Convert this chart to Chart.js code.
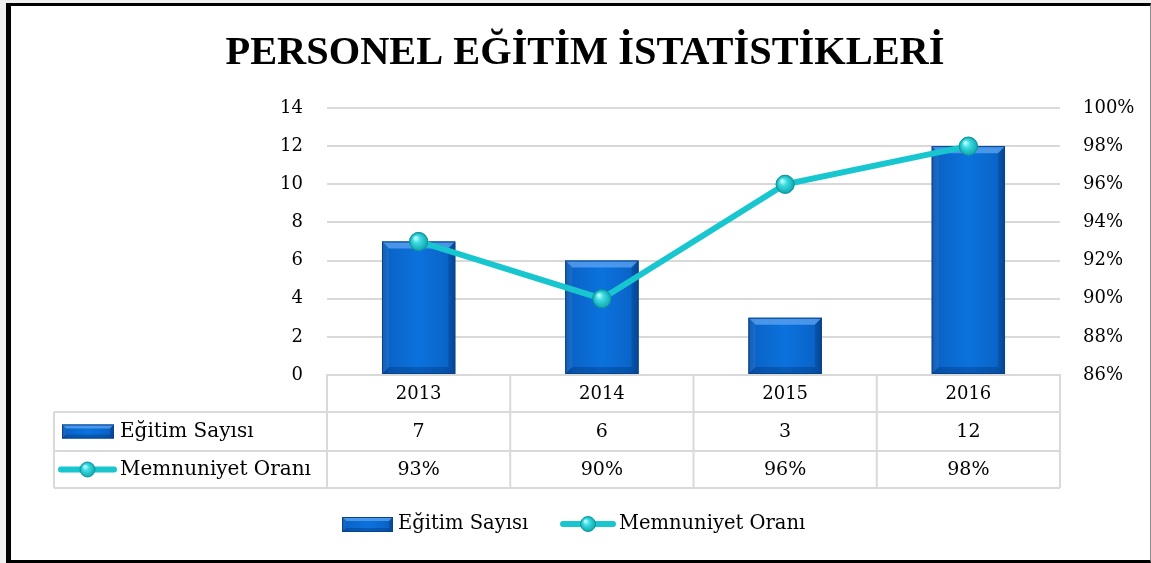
<!DOCTYPE html>
<html>
<head>
<meta charset="utf-8">
<script src="https://cdn.jsdelivr.net/npm/chart.js@4"></script>
<style>
  html, body { margin: 0; padding: 0; background: #f0f0f0; }
  #frame {
    position: absolute; left: 6px; top: 3px; width: 1145px; height: 560px;
    box-sizing: border-box; background: #fff;
    border-left: 5px solid #000; border-top: 3px solid #000;
    border-bottom: 3px solid #000; border-right: 1px solid #8a8a8a;
  }
  #wrap { position: absolute; left: 0; top: 0; width: 1139px; height: 554px; }
</style>
</head>
<body>
<div id="frame"><div id="wrap"><canvas id="c" width="1139" height="554"></canvas></div></div>
<script>
const titleText = 'PERSONEL EĞİTİM İSTATİSTİKLERİ';
const categories = ['2013', '2014', '2015', '2016'];
const egitimSayisi = [7, 6, 3, 12];
const memnuniyetOrani = [93, 90, 96, 98];
const seriesNames = ['Eğitim Sayısı', 'Memnuniyet Oranı'];
const countAxis = { min: 0, max: 14, step: 2 };
const rateAxis = { min: 86, max: 100, step: 2 };

const SERIF = "'DejaVu Serif', 'Liberation Serif', serif";
const TITLE_SERIF = "'Liberation Serif', 'DejaVu Serif', serif";
const GRID = '#d9d9d9';
const LINE_COLOR = '#17c6cf';

function barFill(ctx, left, right) {
  const g = ctx.createLinearGradient(left, 0, right, 0);
  g.addColorStop(0, '#0a4c9e');
  g.addColorStop(0.1, '#0a64c8');
  g.addColorStop(0.5, '#0b72dd');
  g.addColorStop(0.9, '#0a64c8');
  g.addColorStop(1, '#0a4c9e');
  return g;
}

// Bevelled edges of a bar block
function drawBevel(ctx, l, t, r, b, bev) {
  ctx.save();
  ctx.fillStyle = 'rgba(100,170,245,0.7)';
  ctx.beginPath();
  ctx.moveTo(l, t); ctx.lineTo(r, t); ctx.lineTo(r - bev, t + bev); ctx.lineTo(l + bev, t + bev); ctx.closePath();
  ctx.fill();
  ctx.fillStyle = 'rgba(0,40,100,0.3)';
  ctx.beginPath();
  ctx.moveTo(l, b); ctx.lineTo(r, b); ctx.lineTo(r - bev, b - bev); ctx.lineTo(l + bev, b - bev); ctx.closePath();
  ctx.fill();
  ctx.fillStyle = 'rgba(0,40,100,0.22)';
  ctx.beginPath();
  ctx.moveTo(r, t); ctx.lineTo(r, b); ctx.lineTo(r - bev, b - bev); ctx.lineTo(r - bev, t + bev); ctx.closePath();
  ctx.fill();
  ctx.fillStyle = 'rgba(70,140,225,0.25)';
  ctx.beginPath();
  ctx.moveTo(l, t); ctx.lineTo(l, b); ctx.lineTo(l + bev, b - bev); ctx.lineTo(l + bev, t + bev); ctx.closePath();
  ctx.fill();
  ctx.restore();
}

function drawBlock(ctx, l, t, r, b, bev) {
  ctx.save();
  ctx.fillStyle = barFill(ctx, l, r);
  ctx.fillRect(l, t, r - l, b - t);
  drawBevel(ctx, l, t, r, b, bev);
  ctx.strokeStyle = '#08448c';
  ctx.lineWidth = 1;
  ctx.strokeRect(l + 0.5, t + 0.5, r - l - 1, b - t - 1);
  ctx.restore();
}

function drawBall(ctx, x, y, r) {
  ctx.save();
  const g = ctx.createRadialGradient(x - r * 0.35, y - r * 0.4, r * 0.1, x, y, r);
  g.addColorStop(0, '#b8fbfd');
  g.addColorStop(0.35, '#3fdde3');
  g.addColorStop(1, '#10a8af');
  ctx.fillStyle = g;
  ctx.beginPath(); ctx.arc(x, y, r, 0, Math.PI * 2); ctx.fill();
  ctx.strokeStyle = '#0e979e';
  ctx.lineWidth = 1;
  ctx.stroke();
  ctx.restore();
}

function drawLineIcon(ctx, l, cy, w) {
  ctx.save();
  ctx.strokeStyle = LINE_COLOR;
  ctx.lineWidth = 6;
  ctx.lineCap = 'round';
  ctx.beginPath(); ctx.moveTo(l + 3, cy); ctx.lineTo(l + w - 3, cy); ctx.stroke();
  ctx.restore();
  drawBall(ctx, l + w / 2, cy, 7.5);
}

const decorPlugin = {
  id: 'decor',
  afterDatasetDraw(chart, args) {
    const ctx = chart.ctx;
    if (args.meta.type === 'bar') {
      // shaded, bevelled bar faces at each bar element's position
      args.meta.data.forEach(bar => {
        const l = bar.x - bar.width / 2, r = bar.x + bar.width / 2;
        drawBlock(ctx, l, bar.y, r, bar.base, 7);
      });
    } else if (args.meta.type === 'line') {
      args.meta.data.forEach(pt => drawBall(ctx, pt.x, pt.y, 9));
    }
  },
  afterDraw(chart) {
    const ctx = chart.ctx;
    const ca = chart.chartArea;
    const xs = chart.scales.x;

    // title
    ctx.save();
    ctx.fillStyle = '#000';
    ctx.font = "bold 41px " + TITLE_SERIF;
    ctx.textAlign = 'center';
    ctx.textBaseline = 'alphabetic';
    ctx.fillText(titleText, 574, 58, 719);
    ctx.restore();

    // data table under the axis
    const rowTop = ca.bottom, row1 = ca.bottom + 37, row2 = ca.bottom + 76, rowBot = ca.bottom + 113;
    const tableLeft = 43;
    const colW = (ca.right - ca.left) / categories.length;
    ctx.save();
    ctx.strokeStyle = GRID;
    ctx.lineWidth = 2;
    ctx.beginPath();
    for (let i = 0; i <= categories.length; i++) {
      const x = ca.left + i * colW;
      ctx.moveTo(x, rowTop); ctx.lineTo(x, rowBot);
    }
    ctx.moveTo(tableLeft, row1); ctx.lineTo(ca.right, row1);
    ctx.moveTo(tableLeft, row2); ctx.lineTo(ca.right, row2);
    ctx.moveTo(tableLeft, rowBot); ctx.lineTo(ca.right, rowBot);
    ctx.moveTo(tableLeft, row1); ctx.lineTo(tableLeft, rowBot);
    ctx.stroke();

    ctx.fillStyle = '#000';
    ctx.textBaseline = 'middle';
    ctx.textAlign = 'center';
    ctx.font = "19px " + SERIF;
    const r1c = (row1 + row2) / 2, r2c = (row2 + rowBot) / 2;
    categories.forEach((c, i) => {
      const x = xs.getPixelForValue(i);
      ctx.fillText(String(egitimSayisi[i]), x, r1c + 1);
      ctx.fillText(memnuniyetOrani[i] + '%', x, r2c + 1);
    });
    ctx.textAlign = 'left';
    ctx.font = "20px " + SERIF;
    drawBlock(ctx, 51, r1c - 7, 103, r1c + 7, 4);
    ctx.fillText(seriesNames[0], 109, r1c);
    drawLineIcon(ctx, 47, r2c, 59);
    ctx.fillText(seriesNames[1], 109, r2c);

    // legend
    const ly = 518;
    ctx.font = "19.5px " + SERIF;
    drawBlock(ctx, 331, ly - 7, 382, ly + 8, 4);
    ctx.fillText(seriesNames[0], 387, ly);
    drawLineIcon(ctx, 549, ly, 56);
    ctx.fillText(seriesNames[1], 608, ly);
    ctx.restore();
  }
};

const tickFont = { family: SERIF, size: 18 };

new Chart(document.getElementById('c'), {
  type: 'bar',
  data: {
    labels: categories,
    datasets: [
      {
        type: 'line',
        label: seriesNames[1],
        data: memnuniyetOrani,
        yAxisID: 'y1',
        order: 0,
        borderColor: LINE_COLOR,
        borderWidth: 6,
        pointRadius: 9,
        pointBackgroundColor: '#2fd6dc',
        pointBorderColor: '#0e979e',
        pointBorderWidth: 1,
        tension: 0
      },
      {
        type: 'bar',
        label: seriesNames[0],
        data: egitimSayisi,
        yAxisID: 'y',
        order: 1,
        backgroundColor: '#0b6fd8',
        borderColor: '#08448c',
        borderWidth: 1,
        categoryPercentage: 0.8,
        barPercentage: 0.5
      }
    ]
  },
  options: {
    responsive: false,
    animation: false,
    events: [],
    layout: { padding: { left: 256, right: 4, top: 102, bottom: 72 } },
    plugins: { legend: { display: false }, title: { display: false }, tooltip: { enabled: false } },
    scales: {
      x: {
        grid: { display: false, drawTicks: false },
        border: { display: true, color: GRID, width: 2 },
        ticks: { font: tickFont, color: '#000', padding: 9 },
        afterFit(s) { s.height = 113; }
      },
      y: {
        position: 'left',
        min: countAxis.min, max: countAxis.max,
        ticks: { stepSize: countAxis.step, font: tickFont, color: '#000', padding: 24 },
        grid: { color: GRID, lineWidth: 2, drawTicks: false },
        border: { display: false },
        afterFit(s) { s.width = 60; }
      },
      y1: {
        position: 'right',
        min: rateAxis.min, max: rateAxis.max,
        ticks: { stepSize: rateAxis.step, font: tickFont, color: '#000', padding: 23, callback: v => v + '%' },
        grid: { display: false, drawTicks: false },
        border: { display: false },
        afterFit(s) { s.width = 86; }
      }
    }
  },
  plugins: [decorPlugin]
});
</script>
</body>
</html>
